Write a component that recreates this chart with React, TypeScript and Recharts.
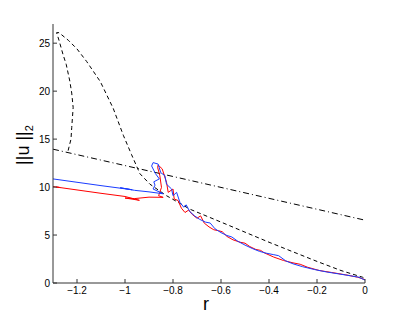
import React from "react";
import { LineChart, Line, XAxis, YAxis } from "recharts";

// r values and ||u||_2
const blueCurve: [number, number][] = [
  [-1.3, 10.85], [-1.2, 10.5], [-1.1, 10.15], [-0.97, 9.72], [-1.02, 9.93], [-0.96, 9.66],
  [-0.9, 9.5], [-0.841, 9.3], [-0.883, 9.8], [-0.875, 10.2], [-0.88, 10.55],
  [-0.857, 10.85], [-0.873, 11.4], [-0.889, 12.2], [-0.883, 12.55], [-0.862, 12.4],
  [-0.851, 11.5], [-0.834, 11.2], [-0.827, 10.3], [-0.806, 9.8], [-0.8, 9.1], [-0.785, 9.45],
  [-0.771, 8.4], [-0.755, 7.9], [-0.745, 8.15], [-0.73, 7.45], [-0.71, 7.0], [-0.69, 6.65],
  [-0.665, 6.35], [-0.645, 6.25], [-0.625, 5.65], [-0.6, 5.25], [-0.575, 4.95], [-0.555, 4.8],
  [-0.53, 4.35], [-0.5, 3.95], [-0.47, 3.6], [-0.44, 3.3], [-0.41, 3.1], [-0.38, 2.95],
  [-0.36, 2.85], [-0.33, 2.3], [-0.3, 2.0], [-0.26, 1.7], [-0.21, 1.4], [-0.16, 1.15],
  [-0.11, 0.95], [-0.06, 0.75], [-0.025, 0.6], [0, 0.3],
];

const redCurve: [number, number][] = [
  [-1.3, 10.05], [-1.27, 9.95], [-1.285, 10.0], [-1.2, 9.7], [-1.1, 9.35], [-1.0, 9.02],
  [-0.94, 8.62], [-1.0, 8.86], [-0.96, 8.8], [-0.9, 8.95], [-0.841, 8.93],
  [-0.86, 9.1], [-0.848, 9.97], [-0.855, 11.2], [-0.864, 12.05], [-0.862, 12.3],
  [-0.845, 11.9], [-0.827, 10.5], [-0.82, 9.45], [-0.8, 9.8], [-0.795, 8.76], [-0.779, 8.6],
  [-0.765, 7.8], [-0.75, 7.35], [-0.735, 7.6], [-0.72, 7.15], [-0.7, 6.75], [-0.685, 7.0],
  [-0.67, 6.25], [-0.65, 5.85], [-0.63, 5.55], [-0.61, 5.45], [-0.595, 5.35], [-0.575, 4.85],
  [-0.55, 4.5], [-0.52, 4.25], [-0.5, 4.15], [-0.48, 3.8], [-0.455, 3.5], [-0.435, 3.4],
  [-0.42, 3.15], [-0.38, 2.7], [-0.34, 2.35], [-0.3, 2.1], [-0.27, 1.95], [-0.24, 1.65],
  [-0.19, 1.3], [-0.14, 1.1], [-0.08, 0.85], [-0.03, 0.6], [0, 0.35],
];

const dashedCurve: [number, number][] = [
  [-1.237, 13.8], [-1.225, 15.0], [-1.222, 16.2], [-1.216, 18.3], [-1.222, 19.8],
  [-1.23, 21.05], [-1.245, 22.8], [-1.258, 23.8], [-1.275, 25.3], [-1.285, 26.1],
  [-1.275, 26.1], [-1.236, 25.3], [-1.2, 24.4], [-1.16, 23.1], [-1.103, 21.0],
  [-1.049, 18.2], [-1.007, 15.4], [-0.973, 13.4], [-0.938, 11.4], [-0.896, 10.3],
  [-0.827, 9.1], [-0.771, 8.3], [-0.73, 7.7], [-0.6, 6.35], [-0.5, 5.3], [-0.4, 4.25],
  [-0.3, 3.25], [-0.2, 2.25], [-0.1, 1.3], [-0.01, 0.6], [0, 0.45],
];

const dashDotLine: [number, number][] = [
  [-1.3, 13.95],
  [0, 6.55],
];

const xTicks = [-1.2, -1, -0.8, -0.6, -0.4, -0.2, 0];
const yTicks = [0, 5, 10, 15, 20, 25];

const toRows = (pts: [number, number][]) => pts.map(([x, y]) => ({ x, y }));

const font = "'Liberation Sans', Arial, sans-serif";
const fmtX = (v: number) => String(v).replace("-", "\u2212");

const YLabel = () => (
  <text
    x={29}
    y={145}
    transform="rotate(-90 29 145)"
    textAnchor="middle"
    fontSize={18}
    fontFamily={font}
    fill="#000"
  >
    ||u ||<tspan fontSize={11} dy={4}>2</tspan>
  </text>
);

const XLabel = () => (
  <text x={206} y={310} textAnchor="middle" fontSize={18} fontFamily={font} fill="#000">
    r
  </text>
);

export default function App() {
  return (
    <div style={{ position: "absolute", left: 0, top: 0, background: "#fff" }}>
      <LineChart
        width={403}
        height={318}
        margin={{ top: 24, right: 38, bottom: 5, left: 13 }}
      >
        <XAxis
          dataKey="x"
          type="number"
          domain={[-1.3, 0]}
          ticks={xTicks}
          allowDataOverflow
          tickFormatter={fmtX}
          tickSize={-4}
          tickMargin={8}
          height={30}
          stroke="#333"
          tick={{ fill: "#000", fontSize: 10, fontFamily: font }}
          label={<XLabel />}
        />
        <YAxis
          dataKey="y"
          type="number"
          domain={[0, 27]}
          ticks={yTicks}
          allowDataOverflow
          tickSize={-4}
          tickMargin={7}
          width={40}
          stroke="#333"
          tick={{ fill: "#000", fontSize: 10, fontFamily: font }}
          label={<YLabel />}
        />
        <Line
          data={toRows(dashedCurve)}
          dataKey="y"
          stroke="#000"
          strokeWidth={1}
          strokeDasharray="4 3"
          dot={false}
          isAnimationActive={false}
        />
        <Line
          data={toRows(dashDotLine)}
          dataKey="y"
          stroke="#000"
          strokeWidth={1}
          strokeDasharray="6 3 1 3"
          dot={false}
          isAnimationActive={false}
        />
        <Line
          data={toRows(redCurve)}
          dataKey="y"
          stroke="#ff0000"
          strokeWidth={1}
          dot={false}
          isAnimationActive={false}
        />
        <Line
          data={toRows(blueCurve)}
          dataKey="y"
          stroke="#1a3cff"
          strokeWidth={1}
          dot={false}
          isAnimationActive={false}
        />
      </LineChart>
    </div>
  );
}
